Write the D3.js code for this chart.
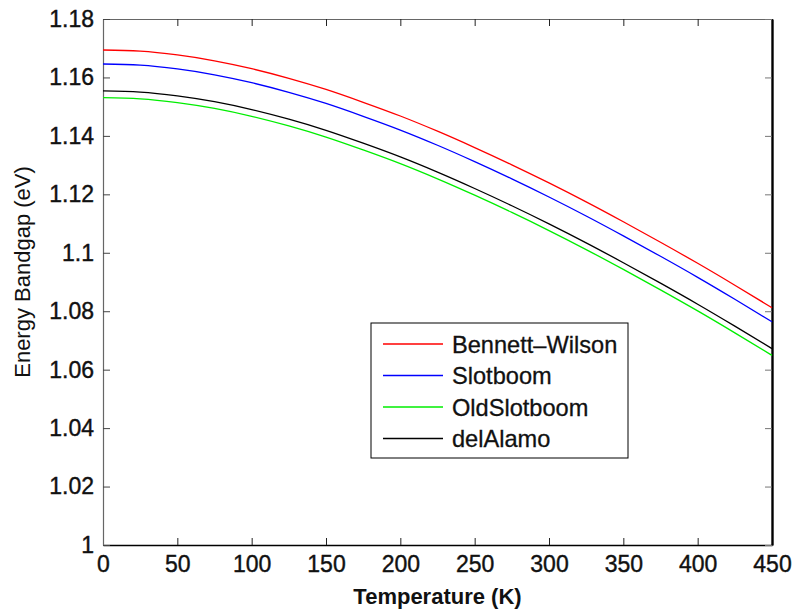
<!DOCTYPE html>
<html>
<head>
  <meta charset="UTF-8">
  <title>Energy Bandgap vs Temperature</title>
  <script src="https://d3js.org/d3.v7.min.js"></script>
  <style>
    body {
      margin: 0;
      background: #fff;
      font-family: Arial, "Liberation Sans", sans-serif;
    }
    .tick text {
      font-size: 23px;
      fill: #111;
      stroke: #111;
      stroke-width: 0.4px;
    }
    .series {
      fill: none;
      stroke-width: 1.3;
    }
    .legend text {
      font-size: 23.6px;
      fill: #111;
      stroke: #111;
      stroke-width: 0.3px;
    }
  </style>
</head>
<body>
  <div id="chart"></div>
  <script>
    // temperature samples (K)
    const temperature = [0, 25, 50, 75, 100, 125, 150, 175, 200, 225, 250, 275, 300, 325, 350, 375, 400, 425, 450];

    // bandgap (eV) for each model
    const bennettWilson = [1.1694, 1.1690, 1.1677, 1.1657, 1.1630, 1.1597, 1.1559, 1.1515, 1.1468, 1.1416, 1.1360, 1.1301, 1.1239, 1.1174, 1.1106, 1.1036, 1.0964, 1.0889, 1.0812];
    const slotboom = [1.1646, 1.1642, 1.1629, 1.1609, 1.1582, 1.1549, 1.1511, 1.1467, 1.1420, 1.1368, 1.1312, 1.1253, 1.1191, 1.1126, 1.1058, 1.0988, 1.0916, 1.0841, 1.0764];
    const oldSlotboom = [1.1531, 1.1527, 1.1514, 1.1494, 1.1467, 1.1434, 1.1396, 1.1352, 1.1305, 1.1253, 1.1197, 1.1138, 1.1076, 1.1011, 1.0943, 1.0873, 1.0801, 1.0726, 1.0649];
    const delAlamo = [1.1554, 1.1550, 1.1537, 1.1517, 1.1490, 1.1457, 1.1419, 1.1375, 1.1328, 1.1276, 1.1220, 1.1161, 1.1099, 1.1034, 1.0966, 1.0896, 1.0824, 1.0749, 1.0672];

    const seriesNames = ["Bennett\u2013Wilson", "Slotboom", "OldSlotboom", "delAlamo"];
    const seriesColors = ["#ff0000", "#0000ff", "#00ee00", "#000000"];
    const seriesValues = [bennettWilson, slotboom, oldSlotboom, delAlamo];

    const xTicks = [0, 50, 100, 150, 200, 250, 300, 350, 400, 450];
    const yTicks = [1, 1.02, 1.04, 1.06, 1.08, 1.1, 1.12, 1.14, 1.16, 1.18];

    const W = 795, H = 611;
    const margin = { top: 19, right: 23, bottom: 66, left: 103 };
    const width = W - margin.left - margin.right;
    const height = H - margin.top - margin.bottom;

    const x = d3.scaleLinear().domain([0, 450]).range([0, width]);
    const y = d3.scaleLinear().domain([1, 1.18]).range([height, 0]);

    const svg = d3.select("#chart").append("svg")
      .attr("width", W)
      .attr("height", H);

    const g = svg.append("g")
      .attr("transform", `translate(${margin.left},${margin.top})`);

    const fmt = d => String(+d.toFixed(2));

    // axes, ticks pointing inward like a boxed plot
    const bottomAxis = g.append("g")
      .attr("transform", `translate(0,${height})`)
      .call(d3.axisBottom(x).tickValues(xTicks).tickSizeInner(-7).tickSizeOuter(0).tickPadding(11).tickFormat(fmt));
    const topAxis = g.append("g")
      .call(d3.axisTop(x).tickValues(xTicks).tickSizeInner(-7).tickSizeOuter(0).tickFormat(""));
    const leftAxis = g.append("g")
      .call(d3.axisLeft(y).tickValues(yTicks).tickSizeInner(-7).tickSizeOuter(0).tickPadding(9).tickFormat(fmt));
    const rightAxis = g.append("g")
      .attr("transform", `translate(${width},0)`)
      .call(d3.axisRight(y).tickValues(yTicks).tickSizeInner(-7).tickSizeOuter(0).tickFormat(""));

    bottomAxis.select(".domain").attr("stroke", "#000").attr("stroke-width", 1.6);
    rightAxis.select(".domain").attr("stroke", "#000").attr("stroke-width", 2.4);
    topAxis.select(".domain").attr("stroke", "#666").attr("stroke-width", 1.2);
    leftAxis.select(".domain").attr("stroke", "#666").attr("stroke-width", 1.2);
    g.selectAll(".tick line").attr("stroke", "#222");
    leftAxis.selectAll(".tick line").attr("stroke", "#444");
    rightAxis.selectAll(".tick line").attr("stroke", "#777");
    bottomAxis.selectAll(".tick text").attr("dy", "0.71em");

    // curves
    const line = d3.line()
      .x((d, i) => x(temperature[i]))
      .y(d => y(d))
      .curve(d3.curveMonotoneX);

    g.selectAll(".series")
      .data(seriesValues)
      .enter()
      .append("path")
      .attr("class", "series")
      .attr("stroke", (d, i) => seriesColors[i])
      .attr("d", line);

    // axis titles
    svg.append("text")
      .attr("x", margin.left + width / 2)
      .attr("y", 604)
      .attr("text-anchor", "middle")
      .style("font-size", "22px")
      .style("font-weight", "bold")
      .attr("fill", "#111")
      .text("Temperature (K)");

    svg.append("text")
      .attr("transform", "translate(30,272) rotate(-90)")
      .attr("text-anchor", "middle")
      .style("font-size", "22px")
      .attr("fill", "#111")
      .text("Energy Bandgap (eV)");

    // legend
    const legend = svg.append("g").attr("class", "legend")
      .attr("transform", "translate(371,323)");

    legend.append("rect")
      .attr("width", 257)
      .attr("height", 135)
      .attr("fill", "#fff")
      .attr("stroke", "#000")
      .attr("stroke-width", 1);

    const rows = legend.selectAll(".row")
      .data(seriesNames)
      .enter()
      .append("g")
      .attr("class", "row")
      .attr("transform", (d, i) => `translate(0,${21 + i * 31.5})`);

    rows.append("line")
      .attr("x1", 12).attr("x2", 72)
      .attr("stroke", (d, i) => seriesColors[i])
      .attr("stroke-width", 1.3);

    rows.append("text")
      .attr("x", 81)
      .attr("dy", "0.36em")
      .text(d => d);
  </script>
</body>
</html>
